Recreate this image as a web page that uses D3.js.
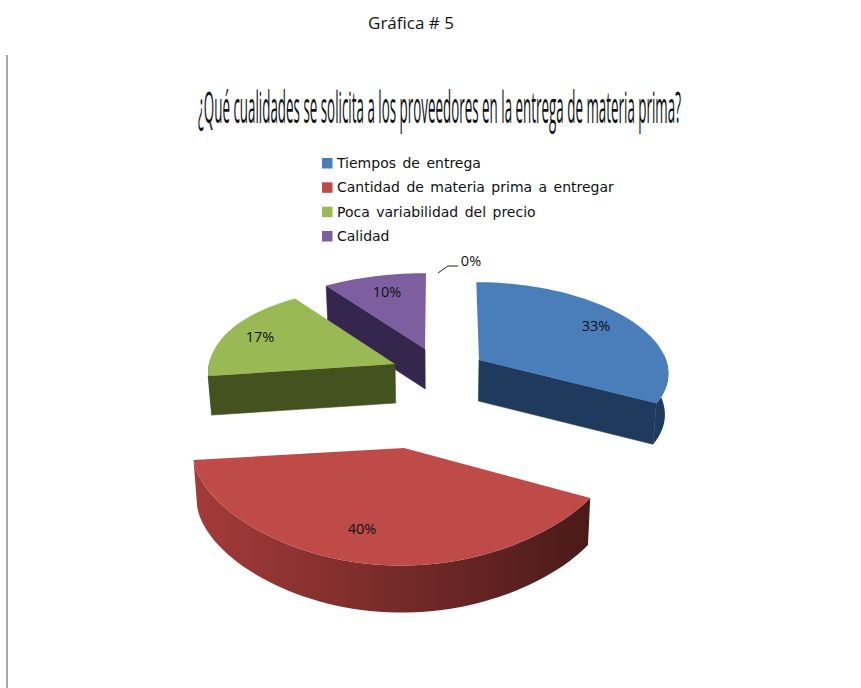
<!DOCTYPE html>
<html lang="es">
<head>
<meta charset="utf-8">
<title>Gráfica # 5</title>
<script src="https://cdn.jsdelivr.net/npm/d3@7/dist/d3.min.js"></script>
<style>
  html, body { margin: 0; padding: 0; background: #fff; }
  svg { display: block; }
</style>
</head>
<body>
<svg id="chart" width="861" height="688"></svg>
<script>
// Survey answers, in percent
const categories = ["Tiempos de entrega", "Cantidad de materia prima a entregar", "Poca variabilidad del precio", "Calidad", ""];
const shares = [33, 40, 17, 10, 0];
const heading = "Gráfica # 5";
const question = "¿Qué cualidades se solicita a los proveedores en la entrega de materia prima?";

// Colours per slice: top face, cut wall, rim start, rim end
const topColors = ["#4a7ebb", "#be4b48", "#98b954", "#7d5fa0"];
const wallColors = ["#1f3a5c", "#5c201e", "#43521f", "#35264d"];
const rimColors = [["#1f3a5c", "#1f3a5c"], ["#a43b39", "#4a1a19"], ["#43521f", "#43521f"], ["#35264d", "#35264d"]];

// Exploded placement of each slice on the page, with its own foreshortening
const placement = [
  { ax: 479, ay: 360, rx: 187, ry: 85.6, kx: 0.14, ky: 0.1, depth: 41, lx: 596, ly: 326 },
  { ax: 404, ay: 448, rx: 211, ry: 94, kx: 0.03, ky: 0.2, depth: 47, lx: 362, ly: 529 },
  { ax: 395, ay: 364, rx: 186, ry: 94, kx: 0.08, ky: 0.2, depth: 39, lx: 260, ly: 337 },
  { ax: 425, ay: 349, rx: 197, ry: 91, kx: 0.2, ky: 0.2, depth: 40, lx: 387, ly: 292 }
];

const vanishX = 440;        // horizontal point that radial edges lean towards
const lean = 0.08;

const svg = d3.select("#chart");
const defs = svg.append("defs");

// Page furniture
svg.append("line")
  .attr("x1", 7).attr("x2", 7).attr("y1", 55).attr("y2", 688)
  .attr("stroke", "#a8a8a8").attr("stroke-width", 2);

svg.append("text")
  .attr("x", 411).attr("y", 29)
  .attr("text-anchor", "middle")
  .attr("font-family", "'Open Sans', sans-serif")
  .attr("font-size", 17).attr("fill", "#111")
  .text(heading);

// The question is set in a tall, tightly condensed face
const questionText = svg.append("text")
  .attr("font-family", "'Open Sans', sans-serif")
  .attr("font-size", 44).attr("fill", "#111")
  .text(question);
const questionScale = 483 / questionText.node().getComputedTextLength();
questionText.attr("transform", `translate(198,123) scale(${questionScale},1)`);

// Legend
const legendNames = categories.filter(c => c);
const legendRows = d3.scalePoint().domain(legendNames).range([163, 236]);

const legend = svg.append("g").selectAll("g")
  .data(legendNames)
  .join("g")
  .attr("transform", d => `translate(322,${legendRows(d)})`);

legend.append("rect")
  .attr("y", -5).attr("width", 10.5).attr("height", 10.5)
  .attr("fill", (d, i) => topColors[i]);

legend.append("text")
  .attr("x", 15).attr("y", 5)
  .attr("font-family", "'DejaVu Sans', sans-serif")
  .attr("font-size", 14).attr("fill", "#111")
  .attr("word-spacing", 2)
  .text(d => d);

// Slices come from the pie layout; angles run clockwise from twelve o'clock
const arcs = d3.pie().sort(null).value(d => d)(shares);

function project(p, theta, radius = 1) {
  const u = Math.sin(theta) * radius;
  const v = -Math.cos(theta) * radius;
  return [
    p.ax + (p.rx * u + (p.ax - vanishX) * lean * v) / (1 - p.kx * v),
    p.ay + p.ry * v / (1 - p.ky * v)
  ];
}

const lower = (p, pt) => [pt[0] + (vanishX - pt[0]) * 0.015, pt[1] + p.depth];
const toPath = d3.line().curve(d3.curveLinear);
const samples = (a, b) => d3.range(0, 61).map(i => a + (b - a) * i / 60);

// Paint back to front so nearer slices overlap farther ones
const paintOrder = [3, 2, 0, 1];
const pieGroup = svg.append("g");

paintOrder.forEach(i => {
  const p = placement[i];
  const a = arcs[i];
  const g = pieGroup.append("g");
  const apex = project(p, 0, 0);

  // Cut wall facing the viewer: the closing edge on the right of the pie,
  // the opening edge on the left
  if (i !== 1) {
    const edge = project(p, i === 0 ? a.endAngle : a.startAngle);
    g.append("path")
      .attr("d", toPath([apex, edge, lower(p, edge), lower(p, apex)]) + "Z")
      .attr("fill", wallColors[i])
      .attr("stroke", wallColors[i]).attr("stroke-width", 0.6);
  }

  // Outer rim, only where the disc faces the viewer
  const rimFrom = Math.max(a.startAngle, Math.PI * 0.48);
  const rimTo = Math.min(a.endAngle, Math.PI * 1.52);
  if (rimTo > rimFrom) {
    const rimTop = samples(rimFrom, rimTo).map(t => project(p, t));
    const rimBottom = rimTop.map(pt => lower(p, pt)).reverse();
    const gradientId = `rim-${i}`;
    const extent = d3.extent(rimTop, d => d[0]);
    defs.append("linearGradient")
      .attr("id", gradientId)
      .attr("gradientUnits", "userSpaceOnUse")
      .attr("x1", extent[0]).attr("x2", extent[1])
      .attr("y1", 0).attr("y2", 0)
      .selectAll("stop")
      .data(rimColors[i])
      .join("stop")
      .attr("offset", (d, k) => k)
      .attr("stop-color", d => d);
    g.append("path")
      .attr("d", toPath(rimTop.concat(rimBottom)) + "Z")
      .attr("fill", `url(#${gradientId})`);
  }

  // Top face
  const outline = [apex].concat(samples(a.startAngle, a.endAngle).map(t => project(p, t)));
  g.append("path")
    .attr("d", toPath(outline) + "Z")
    .attr("fill", topColors[i]);
});

// Value labels
const labelFont = "'Open Sans', sans-serif";
svg.append("g").selectAll("text")
  .data(placement)
  .join("text")
  .attr("x", d => d.lx).attr("y", d => d.ly + 5)
  .attr("text-anchor", "middle")
  .attr("font-family", labelFont)
  .attr("font-size", 14.5).attr("fill", "#111")
  .text((d, i) => `${shares[i]}%`);

// The empty answer is labelled outside the pie, with a leader
svg.append("text")
  .attr("x", 471).attr("y", 266)
  .attr("text-anchor", "middle")
  .attr("font-family", labelFont)
  .attr("font-size", 14.5).attr("fill", "#111")
  .text(`${shares[4]}%`);

svg.append("path")
  .attr("d", toPath([[438, 273], [448, 266], [458, 266]]))
  .attr("fill", "none").attr("stroke", "#222").attr("stroke-width", 1);
</script>
</body>
</html>
